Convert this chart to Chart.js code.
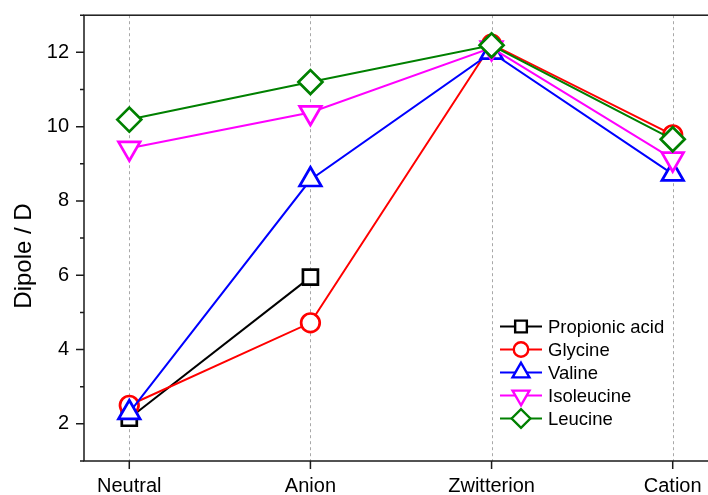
<!DOCTYPE html>
<html>
<head>
<meta charset="utf-8">
<script src="https://cdn.jsdelivr.net/npm/chart.js@4/dist/chart.umd.min.js"></script>
<style>
  html, body { margin: 0; padding: 0; overflow: hidden; background: #fff; }
  #wrap { position: relative; width: 740px; height: 495px; }
</style>
</head>
<body>
<div id="wrap"><canvas id="c" width="740" height="495"></canvas></div>
<script>
// Dipole moments (Debye) per charge state
const categories = ['Neutral', 'Anion', 'Zwitterion', 'Cation'];
const propionicAcid = [2.15, 5.95, null, null];
const glycine = [2.5, 4.72, 12.22, 9.78];
const valine = [2.3, 8.57, 12.0, 8.72];
const isoleucine = [9.42, 10.38, 12.12, 9.13];
const leucine = [10.19, 11.2, 12.19, 9.66];
const yMajorTicks = [2, 4, 6, 8, 10, 12];
const yTitle = 'Dipole / D';

const FONT = '"Liberation Sans", Arial, sans-serif';
const AXIS_COLOR = '#1a1a1a';

const toPoints = arr => arr.map((v, i) => ({ x: i, y: v }));

function series(label, values, color, style, radius, rotation, order) {
  return {
    label,
    data: toPoints(values),
    borderColor: color,
    backgroundColor: '#fff',
    borderWidth: 2,
    pointStyle: style,
    pointRadius: radius,
    pointRotation: rotation,
    pointBorderWidth: 2.7,
    pointBackgroundColor: '#fff',
    pointBorderColor: color,
    tension: 0,
    spanGaps: false,
    order
  };
}

const datasets = [
  series('Propionic acid', propionicAcid, '#000000', 'rect', 10.6, 0, 5),
  series('Glycine', glycine, '#ff0000', 'circle', 9.3, 0, 4),
  series('Valine', valine, '#0000ff', 'triangle', 12.5, 0, 3),
  series('Isoleucine', isoleucine, '#ff00ff', 'triangle', 12.5, 180, 2),
  series('Leucine', leucine, '#008000', 'rectRot', 12, 0, 1)
];

function drawMarker(ctx, ds, x, y, scale) {
  ctx.save();
  ctx.fillStyle = '#fff';
  ctx.strokeStyle = ds.pointBorderColor;
  ctx.lineWidth = 2.4;
  Chart.helpers.drawPoint(ctx, {
    pointStyle: ds.pointStyle,
    rotation: ds.pointRotation,
    radius: ds.pointRadius * scale,
    borderWidth: 2.4
  }, x, y);
  ctx.restore();
}

// dashed category guides behind the data
const guides = {
  id: 'guides',
  beforeDatasetsDraw(chart) {
    const { ctx, chartArea: a, scales: { x } } = chart;
    ctx.save();
    ctx.strokeStyle = '#a8a8a8';
    ctx.lineWidth = 1;
    ctx.setLineDash([3, 3]);
    categories.forEach((_, i) => {
      const px = Math.round(x.getPixelForValue(i)) + 0.5;
      ctx.beginPath();
      ctx.moveTo(px, a.top);
      ctx.lineTo(px, a.bottom);
      ctx.stroke();
    });
    ctx.restore();
  }
};

// box frame, tick marks, axis title and legend
const decorations = {
  id: 'decorations',
  afterDraw(chart) {
    const { ctx, chartArea: a, scales: { x, y } } = chart;
    ctx.save();
    ctx.strokeStyle = AXIS_COLOR;
    ctx.lineWidth = 1.5;
    ctx.strokeRect(a.left, a.top, a.right - a.left, a.bottom - a.top);

    // x ticks
    ctx.beginPath();
    categories.forEach((_, i) => {
      const px = x.getPixelForValue(i);
      ctx.moveTo(px, a.bottom);
      ctx.lineTo(px, a.bottom + 8);
    });
    // y ticks: major on even values, minor in between
    for (let v = y.min; v <= y.max; v++) {
      const py = y.getPixelForValue(v);
      const len = yMajorTicks.includes(v) ? 8 : 4;
      ctx.moveTo(a.left, py);
      ctx.lineTo(a.left - len, py);
    }
    ctx.stroke();

    // y axis title
    ctx.save();
    ctx.translate(24.5, 256);
    ctx.rotate(-Math.PI / 2);
    ctx.fillStyle = '#000';
    ctx.font = '24px ' + FONT;
    ctx.textAlign = 'center';
    ctx.textBaseline = 'middle';
    ctx.fillText(yTitle, 0, 0);
    ctx.restore();

    // legend
    const lx0 = 500, lx1 = 542, mx = 521, tx = 548, ty0 = 326.5, dy = 23;
    ctx.font = '18.5px ' + FONT;
    ctx.textAlign = 'left';
    ctx.textBaseline = 'alphabetic';
    chart.data.datasets.forEach((ds, i) => {
      const ly = ty0 + i * dy;
      ctx.strokeStyle = ds.borderColor;
      ctx.lineWidth = 2;
      ctx.beginPath();
      ctx.moveTo(lx0, ly);
      ctx.lineTo(lx1, ly);
      ctx.stroke();
      drawMarker(ctx, ds, mx, ly, 0.78);
      ctx.fillStyle = '#000';
      ctx.fillText(ds.label, tx, ly + 6.5);
    });
    ctx.restore();
  }
};

new Chart(document.getElementById('c'), {
  type: 'line',
  data: { datasets },
  options: {
    responsive: false,
    animation: false,
    events: [],
    layout: { padding: { left: 0, top: 14, right: 22, bottom: 0 } },
    plugins: { legend: { display: false }, tooltip: { enabled: false } },
    scales: {
      x: {
        type: 'linear',
        min: -0.25,
        max: 3.25,
        bounds: 'data',
        grid: { display: false },
        border: { display: false },
        afterBuildTicks: s => { s.ticks = categories.map((_, i) => ({ value: i })); },
        afterFit: s => { s.height = 34; s.paddingLeft = 0; s.paddingRight = 0; },
        ticks: {
          autoSkip: false,
          maxRotation: 0,
          padding: 5,
          color: '#000',
          font: { family: FONT, size: 20 },
          callback: v => categories[Math.round(v)] ?? ''
        }
      },
      y: {
        min: 1,
        max: 13,
        grid: { display: false },
        border: { display: false },
        afterFit: s => { s.width = 84; s.paddingTop = 0; s.paddingBottom = 0; },
        ticks: {
          stepSize: 1,
          autoSkip: false,
          padding: 7,
          color: '#000',
          font: { family: FONT, size: 20 },
          callback: v => (yMajorTicks.includes(v) ? String(v) : '')
        }
      }
    }
  },
  plugins: [guides, decorations]
});
</script>
</body>
</html>
